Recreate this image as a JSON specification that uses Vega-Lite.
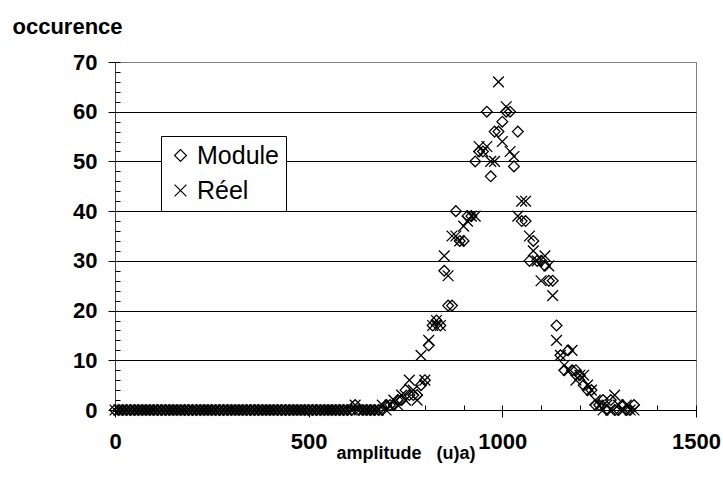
{
"$schema": "https://vega.github.io/schema/vega-lite/v6.json",
"width": 581, "height": 348,
"autosize": "none",
"padding": {"left": 115, "top": 62, "right": 27, "bottom": 81},
"background": "white",
"config": {"font": "Liberation Sans", "view": {"stroke": "#808080", "strokeWidth": 1}},
"data": {"values": [
{"a":0,"Module":0,"Réel":0},{"a":10,"Module":0,"Réel":0},{"a":20,"Module":0,"Réel":0},{"a":30,"Module":0,"Réel":0},{"a":40,"Module":0,"Réel":0},{"a":50,"Module":0,"Réel":0},{"a":60,"Module":0,"Réel":0},{"a":70,"Module":0,"Réel":0},{"a":80,"Module":0,"Réel":0},{"a":90,"Module":0,"Réel":0},
{"a":100,"Module":0,"Réel":0},{"a":110,"Module":0,"Réel":0},{"a":120,"Module":0,"Réel":0},{"a":130,"Module":0,"Réel":0},{"a":140,"Module":0,"Réel":0},{"a":150,"Module":0,"Réel":0},{"a":160,"Module":0,"Réel":0},{"a":170,"Module":0,"Réel":0},{"a":180,"Module":0,"Réel":0},{"a":190,"Module":0,"Réel":0},
{"a":200,"Module":0,"Réel":0},{"a":210,"Module":0,"Réel":0},{"a":220,"Module":0,"Réel":0},{"a":230,"Module":0,"Réel":0},{"a":240,"Module":0,"Réel":0},{"a":250,"Module":0,"Réel":0},{"a":260,"Module":0,"Réel":0},{"a":270,"Module":0,"Réel":0},{"a":280,"Module":0,"Réel":0},{"a":290,"Module":0,"Réel":0},
{"a":300,"Module":0,"Réel":0},{"a":310,"Module":0,"Réel":0},{"a":320,"Module":0,"Réel":0},{"a":330,"Module":0,"Réel":0},{"a":340,"Module":0,"Réel":0},{"a":350,"Module":0,"Réel":0},{"a":360,"Module":0,"Réel":0},{"a":370,"Module":0,"Réel":0},{"a":380,"Module":0,"Réel":0},{"a":390,"Module":0,"Réel":0},
{"a":400,"Module":0,"Réel":0},{"a":410,"Module":0,"Réel":0},{"a":420,"Module":0,"Réel":0},{"a":430,"Module":0,"Réel":0},{"a":440,"Module":0,"Réel":0},{"a":450,"Module":0,"Réel":0},{"a":460,"Module":0,"Réel":0},{"a":470,"Module":0,"Réel":0},{"a":480,"Module":0,"Réel":0},{"a":490,"Module":0,"Réel":0},
{"a":500,"Module":0,"Réel":0},{"a":510,"Module":0,"Réel":0},{"a":520,"Module":0,"Réel":0},{"a":530,"Module":0,"Réel":0},{"a":540,"Module":0,"Réel":0},{"a":550,"Module":0,"Réel":0},{"a":560,"Module":0,"Réel":0},{"a":570,"Module":0,"Réel":0},{"a":580,"Module":0,"Réel":0},{"a":590,"Module":0,"Réel":0},
{"a":600,"Module":0,"Réel":0},{"a":610,"Module":0,"Réel":0},{"a":620,"Module":1,"Réel":1},{"a":630,"Module":0,"Réel":0},{"a":640,"Module":0,"Réel":0},{"a":650,"Module":0,"Réel":0},{"a":660,"Module":0,"Réel":0},{"a":670,"Module":0,"Réel":0},{"a":680,"Module":0,"Réel":0},{"a":690,"Module":0,"Réel":1},
{"a":700,"Module":1,"Réel":0},{"a":710,"Module":1,"Réel":1},{"a":720,"Module":1,"Réel":2},{"a":730,"Module":2,"Réel":1},{"a":740,"Module":2,"Réel":3},{"a":750,"Module":4,"Réel":2},{"a":760,"Module":3,"Réel":6},{"a":770,"Module":3,"Réel":4},{"a":780,"Module":3,"Réel":2},{"a":790,"Module":5,"Réel":11},
{"a":800,"Module":6,"Réel":6},{"a":810,"Module":13,"Réel":14},{"a":820,"Module":17,"Réel":17},{"a":830,"Module":18,"Réel":18},{"a":840,"Module":17,"Réel":17},{"a":850,"Module":28,"Réel":31},{"a":860,"Module":21,"Réel":27},{"a":870,"Module":21,"Réel":35},{"a":880,"Module":40,"Réel":35},{"a":890,"Module":34,"Réel":34},
{"a":900,"Module":34,"Réel":37},{"a":910,"Module":39,"Réel":38},{"a":920,"Module":39,"Réel":39},{"a":930,"Module":50,"Réel":39},{"a":940,"Module":52,"Réel":53},{"a":950,"Module":52,"Réel":52},{"a":960,"Module":60,"Réel":53},{"a":970,"Module":47,"Réel":50},{"a":980,"Module":56,"Réel":50},{"a":990,"Module":56,"Réel":66},
{"a":1000,"Module":58,"Réel":54},{"a":1010,"Module":60,"Réel":61},{"a":1020,"Module":60,"Réel":52},{"a":1030,"Module":49,"Réel":51},{"a":1040,"Module":56,"Réel":39},{"a":1050,"Module":38,"Réel":42},{"a":1060,"Module":38,"Réel":42},{"a":1070,"Module":30,"Réel":35},{"a":1080,"Module":34,"Réel":32},{"a":1090,"Module":30,"Réel":30},
{"a":1100,"Module":30,"Réel":26},{"a":1110,"Module":29,"Réel":31},{"a":1120,"Module":26,"Réel":29},{"a":1130,"Module":26,"Réel":23},{"a":1140,"Module":17,"Réel":14},{"a":1150,"Module":11,"Réel":11},{"a":1160,"Module":8,"Réel":9},{"a":1170,"Module":12,"Réel":8},{"a":1180,"Module":8,"Réel":12},{"a":1190,"Module":8,"Réel":6},
{"a":1200,"Module":7,"Réel":7},{"a":1210,"Module":5,"Réel":7},{"a":1220,"Module":4,"Réel":5},{"a":1230,"Module":4,"Réel":4},{"a":1240,"Module":1,"Réel":2},{"a":1250,"Module":1,"Réel":1},{"a":1260,"Module":2,"Réel":0},{"a":1270,"Module":0,"Réel":1},{"a":1280,"Module":2,"Réel":0},{"a":1290,"Module":0,"Réel":3},
{"a":1300,"Module":0,"Réel":1},{"a":1310,"Module":1,"Réel":0},{"a":1320,"Module":0,"Réel":1},{"a":1330,"Module":0,"Réel":0},{"a":1340,"Module":1,"Réel":0}
]},
"transform": [{"fold": ["Module", "Réel"], "as": ["serie", "n"]}],
"layer": [
{"mark": {"type": "point", "filled": false, "color": "black", "opacity": 1, "strokeWidth": 1.3, "size": 115},
 "encoding": {
  "x": {"field": "a", "type": "quantitative", "scale": {"domain": [0, 1500], "nice": false},
   "axis": {"orient": "bottom", "values": [0, 500, 1000, 1500], "format": "d", "title": "amplitude\u00a0\u00a0\u00a0(u)a)", "labelFontSize": 22, "labelFontWeight": "bold", "labelColor": "black", "labelFlush": false, "labelPadding": 14, "tickSize": 7, "tickColor": "black", "domainColor": "black", "grid": false, "titleFontSize": 18, "titleFontWeight": "bold", "titleColor": "black", "titleY": 48, "titleBaseline": "alphabetic"}},
  "y": {"field": "n", "type": "quantitative", "scale": {"domain": [0, 70], "nice": false},
   "axis": {"orient": "left", "values": [0, 10, 20, 30, 40, 50, 60, 70], "title": "occurence", "titleAngle": 0, "titleAlign": "left", "titleX": -103, "titleY": -29, "titleBaseline": "alphabetic", "titleFontSize": 22, "titleFontWeight": "bold", "titleColor": "black", "labelFontSize": 22, "labelFontWeight": "bold", "labelColor": "black", "labelFlush": false, "labelPadding": 11, "tickSize": 7, "tickColor": "black", "domainColor": "#404040", "grid": true, "gridColor": {"condition": {"test": "datum.value == 70", "value": "#808080"}, "value": "black"}, "gridWidth": 1}},
  "shape": {"field": "serie", "type": "nominal", "scale": {"domain": ["Module", "Réel"], "range": ["diamond", "M-1,-1L1,1M-1,1L1,-1"]},
   "legend": {"title": null, "orient": "none", "legendX": 46, "legendY": 74, "fillColor": "white", "strokeColor": "black", "padding": 7, "labelFontSize": 25, "labelColor": "black", "symbolSize": 140, "symbolStrokeColor": "black", "symbolStrokeWidth": 1.2, "symbolOpacity": 1, "rowPadding": 9, "labelOffset": 4}}
 }},
{"mark": {"type": "point", "opacity": 0},
 "encoding": {
  "x": {"field": "a", "type": "quantitative", "axis": {"orient": "bottom", "values": [0,100,200,300,400,500,600,700,800,900,1000,1100,1200,1300,1400,1500], "tickSize": -5, "tickColor": "black", "labels": false, "domain": false, "grid": false, "title": null}},
  "y": {"field": "n", "type": "quantitative", "axis": {"orient": "left", "values": [0,2,4,6,8,10,12,14,16,18,20,22,24,26,28,30,32,34,36,38,40,42,44,46,48,50,52,54,56,58,60,62,64,66,68,70], "tickSize": -5, "tickColor": "black", "labels": false, "domain": false, "grid": false, "title": null}}
 }}
],
"resolve": {"axis": {"x": "independent", "y": "independent"}}
}
